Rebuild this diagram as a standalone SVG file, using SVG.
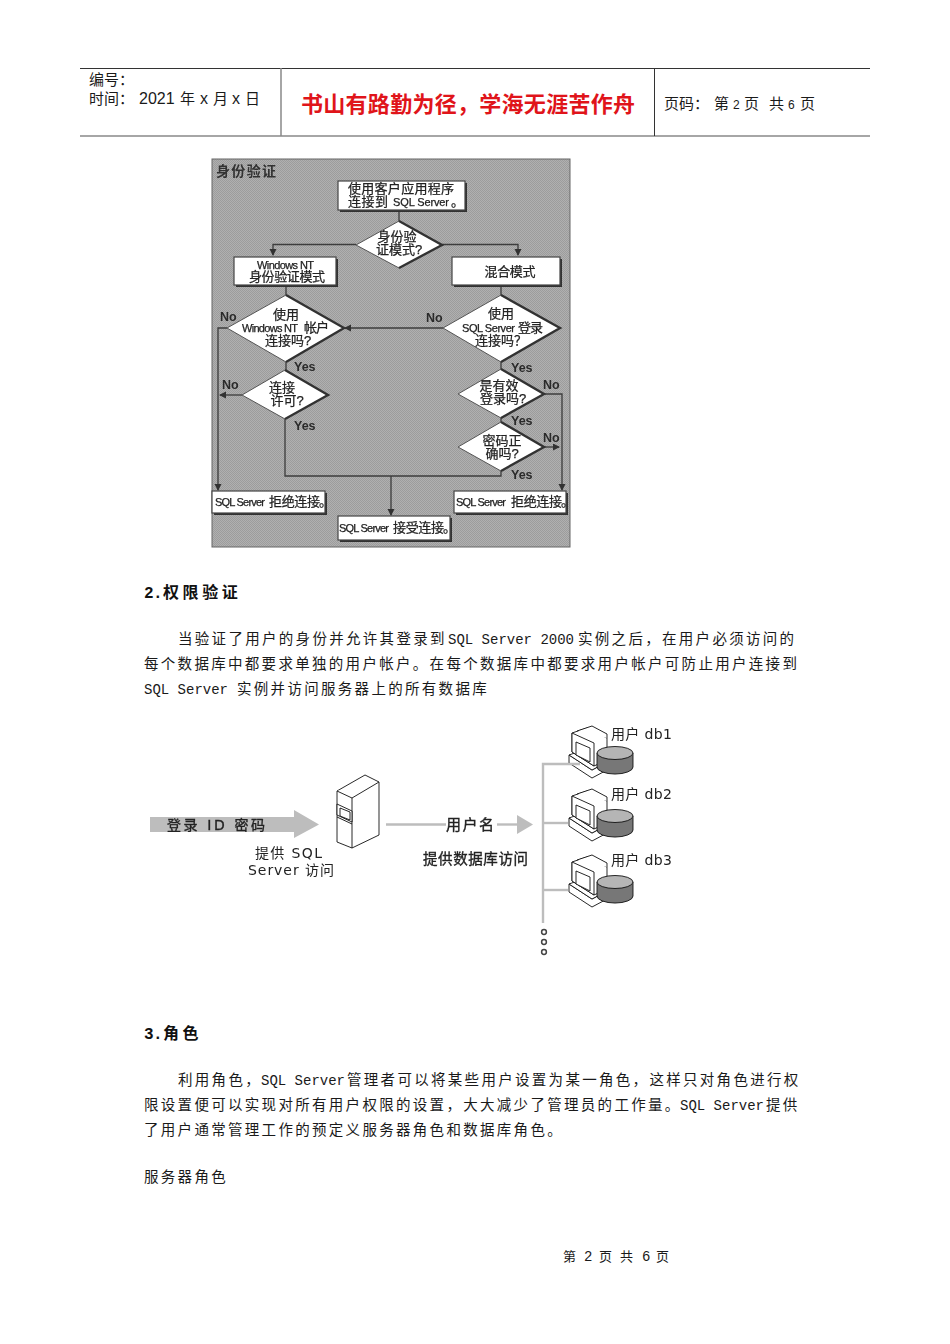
<svg xmlns="http://www.w3.org/2000/svg" width="950" height="1344" viewBox="0 0 950 1344">
<style>
text{font-family:"Liberation Sans","Noto Sans CJK SC",sans-serif;fill:#111}
.body{font-family:"Noto Sans CJK SC",sans-serif;font-size:14.500px;letter-spacing:2.300px;fill:#1a1a1a}
.body .la{font-family:"Liberation Mono",monospace;font-size:14px;letter-spacing:0}
.head{font-family:"Noto Sans CJK SC",sans-serif;font-size:16px;font-weight:700;letter-spacing:3.600px;fill:#111}
.head .la{font-family:"Liberation Mono",monospace;font-size:16px;letter-spacing:-.6px}
.hdr{font-size:15px;fill:#1a1a1a}
.fl{font-size:13px;fill:#222;stroke:#222;stroke-width:.25}
.fc{text-anchor:middle}
.la2{font-size:11px}
.lab{font-size:12.500px;font-weight:700;fill:#2a2a2a}
.box{fill:#fff;stroke:#444;stroke-width:1.200}
.shadow{fill:#333}
.dia{fill:#fff;stroke:#555;stroke-width:1}
.edge{fill:none;stroke:#333;stroke-width:2.400}
.conn{fill:none;stroke:#3c3c3c;stroke-width:1.300}
.g2{font-family:"DejaVu Sans","Noto Sans CJK SC",sans-serif;font-size:14px;fill:#222}
.bold{stroke:#222;stroke-width:.35}
.tree{fill:none;stroke:#bdbdbd;stroke-width:2.400}
.pc{fill:#fff;stroke:#111;stroke-width:.9}
</style>
<defs>
<pattern id="dither" width="2" height="2" patternUnits="userSpaceOnUse">
<rect width="2" height="2" fill="#b0b0b0"/><rect width="1" height="1" fill="#9c9c9c"/><rect x="1" y="1" width="1" height="1" fill="#9c9c9c"/>
</pattern>
<filter id="scan" x="-2%" y="-2%" width="104%" height="104%"><feGaussianBlur stdDeviation=".4"/></filter>
<filter id="soft" x="-2%" y="-2%" width="104%" height="104%"><feGaussianBlur stdDeviation=".25"/></filter>
<marker id="ah" markerWidth="8" markerHeight="8" refX="6" refY="3.500" orient="auto" markerUnits="userSpaceOnUse"><path d="M0 0L7 3.500L0 7Z" fill="#333"/></marker>
<g id="pc">
<path class="pc" d="M569 755V763L592 778L607 770V762L592 770Z"/>
<path class="pc" d="M569 755L583 750L607 762L592 770Z"/>
<path class="pc" d="M572 733L587 728L607 738V760L594 766L572 752Z"/>
<path class="pc" d="M572 733L594 743V766L572 752Z"/>
<path class="pc" d="M577 731L592 726L607 734V738" fill="none"/>
<path class="pc" d="M576 742L590 748V762L576 755Z" fill="#eee"/>
<path d="M597 753V767A18 7 0 0 0 633 767V753Z" fill="#777" stroke="#111" stroke-width=".9"/>
<ellipse cx="615" cy="753" rx="18" ry="6.500" fill="#b5b5b5" stroke="#111" stroke-width=".9"/>
</g>
</defs>
<rect width="950" height="1344" fill="#fff"/>

<g id="page-header">
<path d="M80 68.500H870" stroke="#333" stroke-width="1"/>
<path d="M80 136H870" stroke="#888" stroke-width="1.500"/>
<path d="M281 68V136" stroke="#888" stroke-width="1.500"/>
<path d="M654.500 68V136" stroke="#333" stroke-width="1"/>
<text class="hdr" x="89" y="85">编号：</text>
<text class="hdr" y="104"><tspan x="89">时间：</tspan><tspan x="139" style="font-size:16px">2021</tspan><tspan x="180">年</tspan><tspan x="200" style="font-size:16px">x</tspan><tspan x="213">月</tspan><tspan x="232" style="font-size:16px">x</tspan><tspan x="245">日</tspan></text>
<text x="301" y="112" font-size="22" font-weight="700" textLength="334" style="fill:#e0141a">书山有路勤为径，学海无涯苦作舟</text>
<text class="hdr" y="108.500"><tspan x="664">页码：</tspan><tspan x="714">第</tspan><tspan x="733" style="font-size:12px">2</tspan><tspan x="744">页</tspan><tspan x="769">共</tspan><tspan x="788" style="font-size:12px">6</tspan><tspan x="800">页</tspan></text>
</g>

<g id="flowchart" filter="url(#scan)">
<rect id="panel" x="212" y="159" width="358" height="388" fill="url(#dither)" stroke="#666" stroke-width="1"/>
<text id="panel-title" x="216" y="176" font-size="14" font-weight="700" style="fill:#333" textLength="60">身份验证</text>

<g id="flow-connectors">
<path class="conn" d="M399 210V222"/>
<path class="conn" d="M356 244.500H273V255" marker-end="url(#ah)"/>
<path class="conn" d="M442 244.500H518V255" marker-end="url(#ah)"/>
<path class="conn" d="M286 285V296"/>
<path class="conn" d="M501 285V296"/>
<path class="conn" d="M443 328H345" marker-end="url(#ah)"/>
<path class="conn" d="M227 328H218V490" marker-end="url(#ah)"/>
<path class="conn" d="M286 362V371"/>
<path class="conn" d="M501 362V370"/>
<path class="conn" d="M242 395H220" marker-end="url(#ah)"/>
<path class="conn" d="M544 394H562V490" marker-end="url(#ah)"/>
<path class="conn" d="M544 447H559" marker-end="url(#ah)"/>
<path class="conn" d="M501 418V423"/>
<path class="conn" d="M285 419V476H501V471"/>
<path class="conn" d="M391 476V515" marker-end="url(#ah)"/>
</g>

<g id="n-start"><rect class="shadow" x="340" y="183" width="127" height="29"/><rect class="box" x="338" y="181" width="127" height="29"/>
<text class="fl" x="348" y="193" textLength="106">使用客户应用程序</text><text class="fl" x="348" y="206" textLength="40">连接到</text><text class="fl la2" x="393" y="206" textLength="56">SQL Server</text><text class="fl" x="451" y="206">。</text></g>

<g id="n-mode"><path class="dia" d="M399 221L442 245L399 268L356 245Z"/><path class="edge" d="M399 221L442 245L399 268"/>
<text class="fl fc" x="397" y="241">身份验</text><text class="fl fc" x="399" y="254">证模式?</text></g>

<g id="n-winmode"><rect class="shadow" x="236" y="259" width="102" height="28"/><rect class="box" x="234" y="257" width="102" height="28"/>
<text class="fl la2" x="257" y="269" textLength="57">Windows NT</text><text class="fl fc" x="287" y="281" textLength="76">身份验证模式</text></g>

<g id="n-mixed"><rect class="shadow" x="454" y="259" width="108" height="28"/><rect class="box" x="452" y="257" width="108" height="28"/>
<text class="fl fc" x="510" y="276" textLength="51">混合模式</text></g>

<g id="n-winaccount"><path class="dia" d="M286 295L344 328L286 362L227 328Z"/><path class="edge" d="M286 295L344 328L286 362"/>
<text class="fl fc" x="286" y="319">使用</text><text class="fl la2" x="242" y="332" textLength="56">Windows NT</text><text class="fl" x="304" y="332" textLength="25">帐户</text><text class="fl fc" x="288" y="345">连接吗?</text></g>

<g id="n-sqllogin"><path class="dia" d="M501 295L560 328L501 362L443 328Z"/><path class="edge" d="M501 295L560 328L501 362"/>
<text class="fl fc" x="501" y="318">使用</text><text class="fl la2" x="462" y="332" textLength="53">SQL Server</text><text class="fl" x="518" y="332" textLength="25">登录</text><text class="fl fc" x="501" y="345">连接吗？</text></g>

<g id="n-permit"><path class="dia" d="M285 370L328 395L285 419L242 395Z"/><path class="edge" d="M285 370L328 395L285 419"/>
<text class="fl fc" x="282" y="392">连接</text><text class="fl fc" x="287" y="405">许可?</text></g>

<g id="n-validlogin"><path class="dia" d="M501 369L544 394L501 418L458 394Z"/><path class="edge" d="M501 369L544 394L501 418"/>
<text class="fl fc" x="499" y="390">是有效</text><text class="fl fc" x="503" y="403">登录吗?</text></g>

<g id="n-password"><path class="dia" d="M501 422L544 447L501 471L458 447Z"/><path class="edge" d="M501 422L544 447L501 471"/>
<text class="fl fc" x="502" y="445">密码正</text><text class="fl fc" x="502" y="458">确吗?</text></g>

<g id="n-rejectl"><rect class="shadow" x="214" y="493" width="113" height="22"/><rect class="box" x="212" y="491" width="113" height="22"/>
<text class="fl la2" x="215" y="506" textLength="50">SQL Server</text><text class="fl" x="269" y="506" textLength="51">拒绝连接</text><text class="fl" x="319" y="506">。</text></g>

<g id="n-rejectr"><rect class="shadow" x="456" y="493" width="112" height="22"/><rect class="box" x="454" y="491" width="112" height="22"/>
<text class="fl la2" x="456" y="506" textLength="50">SQL Server</text><text class="fl" x="511" y="506" textLength="51">拒绝连接</text><text class="fl" x="561" y="506">。</text></g>

<g id="n-accept"><rect class="shadow" x="340" y="518" width="112" height="24"/><rect class="box" x="338" y="516" width="112" height="24"/>
<text class="fl la2" x="339" y="532" textLength="50">SQL Server</text><text class="fl" x="393" y="532" textLength="51">接受连接</text><text class="fl" x="443" y="532">。</text></g>

<g id="flow-labels">
<text class="lab" x="220" y="321">No</text><text class="lab" x="426" y="322">No</text>
<text class="lab" x="294" y="371">Yes</text><text class="lab" x="511" y="372">Yes</text>
<text class="lab" x="222" y="389">No</text><text class="lab" x="543" y="389">No</text>
<text class="lab" x="294" y="430">Yes</text><text class="lab" x="511" y="425">Yes</text>
<text class="lab" x="543" y="442">No</text><text class="lab" x="511" y="479">Yes</text>
</g>
</g>

<g id="text-block-1">
<text class="head" y="598"><tspan class="la" x="144">2.</tspan><tspan x="163">权限验证</tspan></text>
<text class="body" y="644"><tspan x="178">当验证了用户的身份并允许其登录到</tspan><tspan class="la" x="448">SQL Server 2000</tspan><tspan x="578">实例之后，在用户必须访问的</tspan></text>
<text class="body" x="144" y="669">每个数据库中都要求单独的用户帐户。在每个数据库中都要求用户帐户可防止用户连接到</text>
<text class="body" y="694"><tspan class="la" x="144">SQL Server</tspan><tspan x="237">实例并访问服务器上的所有数据库</tspan></text>
</g>

<g id="access-diagram" filter="url(#soft)">
<g id="server">
<path class="pc" d="M337 791L365 775L379 782L379 835L352 848L337 842Z"/>
<path class="pc" d="M337 791L352 798L379 782M352 798V848"/>
<path class="pc" d="M337 804L352 811V822L337 815Z"/>
<path class="pc" d="M340 808L350 812V820L340 816Z" fill="#ccc"/>
<path class="pc" d="M337 817L352 824"/>
<text class="g2" x="255" y="858" textLength="67">提供 SQL</text>
<text class="g2" x="248" y="875" textLength="86">Server 访问</text>
</g>
<g id="username-label"><text class="g2 bold" x="446" y="830" textLength="48" style="font-size:15px">用户名</text>
<text class="g2 bold" x="423" y="864" textLength="105" style="font-size:14.500px">提供数据库访问</text></g>
<g id="db1"><use href="#pc"/><text class="g2" x="611" y="739" textLength="61">用户 db1</text></g>
<g id="db2"><use href="#pc" y="63"/><text class="g2" x="611" y="799" textLength="61">用户 db2</text></g>
<g id="db3"><use href="#pc" y="129"/><text class="g2" x="611" y="865" textLength="61">用户 db3</text></g>
<g id="more" fill="none" stroke="#444" stroke-width="1.500"><circle cx="544" cy="932" r="2.400"/><circle cx="544" cy="942" r="2.400"/><circle cx="544" cy="952" r="2.400"/></g>
<g id="access-connectors">
<path d="M150 817H294V810L319 824.500L294 838V832H150Z" fill="#bdbdbd"/>
<path class="tree" d="M386 824.500H446"/>
<path class="tree" d="M497 824.500H518"/>
<path d="M517 815L533 824.500L517 834Z" fill="#bdbdbd"/>
<path class="tree" d="M543 923V764H580"/>
<path class="tree" d="M543 823H568"/>
<path class="tree" d="M543 890H568"/>
</g>
<g id="login-label"><text class="g2 bold" x="167" y="830" textLength="98">登录 ID 密码</text></g>
</g>

<g id="text-block-2">
<text class="head" y="1039"><tspan class="la" x="144">3.</tspan><tspan x="163">角色</tspan></text>
<text class="body" y="1085"><tspan x="178">利用角色，</tspan><tspan class="la" x="261">SQL Server</tspan><tspan x="347">管理者可以将某些用户设置为某一角色，这样只对角色进行权</tspan></text>
<text class="body" y="1110"><tspan x="144">限设置便可以实现对所有用户权限的设置，大大减少了管理员的工作量。</tspan><tspan class="la" x="680">SQL Server</tspan><tspan x="766">提供</tspan></text>
<text class="body" x="144" y="1135">了用户通常管理工作的预定义服务器角色和数据库角色。</text>
<text class="body" x="144" y="1182">服务器角色</text>
</g>

<g id="page-footer"><text class="body" y="1261" style="font-size:13px"><tspan x="563">第</tspan><tspan class="la" x="584">2</tspan><tspan x="599">页</tspan><tspan x="620">共</tspan><tspan class="la" x="642">6</tspan><tspan x="656">页</tspan></text></g>
</svg>
